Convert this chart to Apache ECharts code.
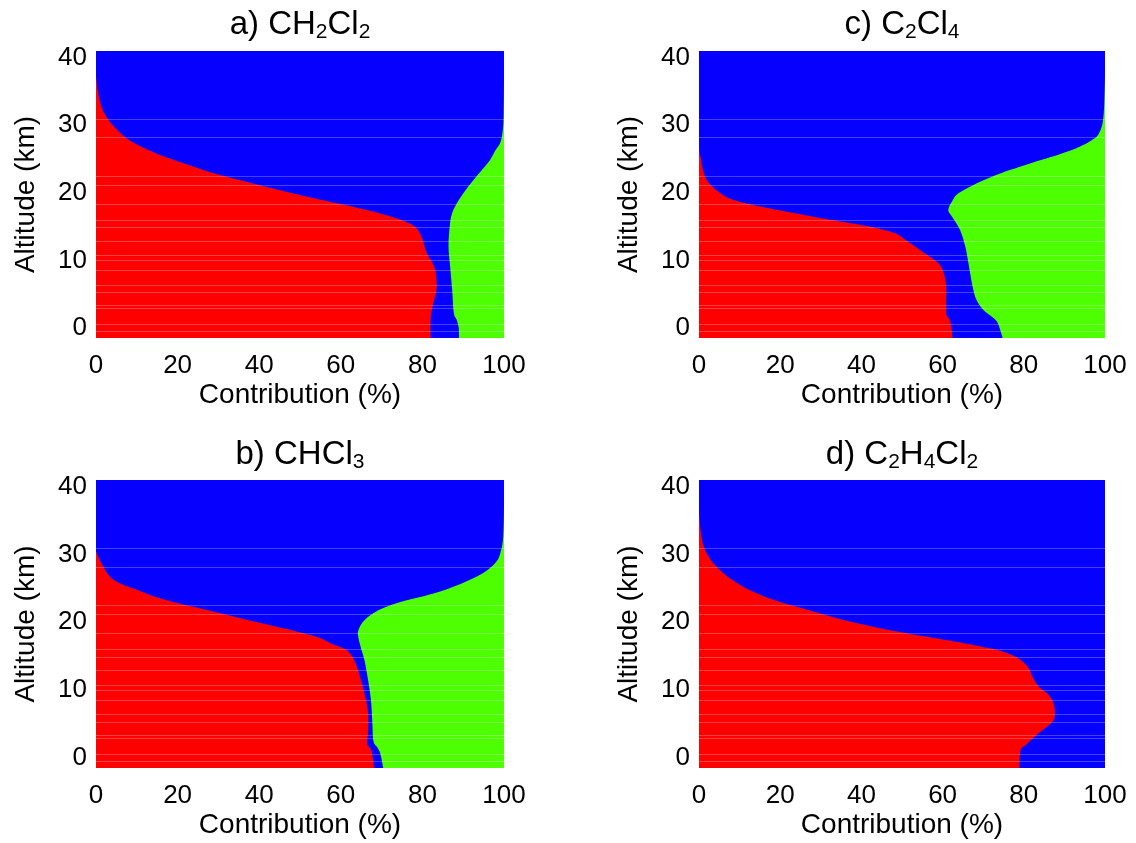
<!DOCTYPE html>
<html>
<head>
<meta charset="utf-8">
<script src="https://cdn.jsdelivr.net/npm/echarts@6/dist/echarts.min.js"></script>
<style>
html, body { margin: 0; padding: 0; background: #fff; }
#main { width: 1136px; height: 843px; }
</style>
</head>
<body>
<div id="main"></div>
<script>
// altitude (km) vs. boundary of each contribution (%)
// red = 0..red edge, blue = red edge..green edge, green = green edge..100

// a) CH2Cl2
var altRedA = [-1.5, 1.2, 3.2, 5.1, 6.6, 9.1, 11.0, 13.5, 15.0, 16.0, 17.0, 17.9, 19.4, 21.1, 22.9, 24.3, 25.8, 27.3, 28.8, 31.2, 33.7, 37.4, 41];
var redA    = [82, 82, 82.5, 83.3, 83.5, 82.9, 81.1, 79.8, 78.1, 74.6, 69.3, 63.2, 51.8, 40.4, 28.9, 21.9, 14.9, 9.6, 6.1, 2.6, 0.9, 0, 0];
var altGreenA = [-1.5, 0, 1.2, 2.2, 5.6, 9.1, 12.0, 15.0, 17.0, 19.0, 20.9, 22.9, 24.8, 26.3, 27.3, 28.8, 31.2, 37.2, 41];
var greenA    = [89, 88.9, 88.4, 87.7, 87.3, 86.8, 86.4, 86.7, 87.3, 89, 91.2, 93.9, 96.5, 97.9, 99, 99.6, 99.9, 100, 100];

// c) C2Cl4
var altRedC = [-1.5, 0.7, 1.4, 2.2, 6.1, 8.1, 9.6, 11.5, 13.0, 14.0, 15.0, 16.0, 17.0, 17.7, 18.4, 19.2, 20.2, 21.4, 22.9, 25.3, 27.8, 41];
var redC    = [62.5, 62, 61.6, 60.9, 60.9, 60.3, 58.9, 54.5, 50.9, 48.3, 42, 32.3, 23.4, 17.2, 11.8, 7.4, 4.7, 2.5, 1.2, 0.4, 0, 0];
var altGreenC = [-1.5, -0.3, 0.7, 1.4, 2.7, 4.2, 6.1, 9.1, 12.0, 14.5, 16.5, 17.5, 18.9, 19.9, 21.1, 22.4, 23.4, 24.8, 25.8, 26.8, 27.8, 28.8, 31.2, 37.2, 41];
var greenC    = [74.8, 74.2, 73.6, 72.7, 70, 68.3, 67.4, 66.5, 65.6, 64.3, 62.3, 61.4, 62.5, 63.8, 67.4, 72.3, 76.7, 83.8, 89.2, 93.6, 96.7, 98.5, 99.6, 100, 100];

// b) CHCl3
var altRedB = [-1.5, 1.1, 2.0, 4.0, 6.5, 8.5, 10.4, 12.4, 14.4, 15.9, 16.8, 17.8, 18.8, 19.8, 20.8, 21.8, 22.8, 23.7, 24.7, 25.7, 26.7, 28.2, 30.2, 31.6, 41];
var redB    = [68.2, 67.5, 66.5, 66.7, 66.7, 66.2, 65.4, 64.5, 63.3, 61.4, 57.9, 54.4, 48.2, 41.2, 34.2, 27.2, 20.2, 14.9, 10.5, 6.1, 3.5, 1.8, 0.2, 0, 0];
var altGreenB = [-1.5, 0.6, 1.6, 2.5, 5.5, 8.5, 11.4, 14.4, 16.3, 17.8, 18.8, 20.3, 21.8, 23.0, 24.2, 25.7, 27.2, 28.7, 30.2, 32.6, 37, 41];
var greenB    = [70.4, 69.7, 68.9, 68, 67.7, 67.4, 66.7, 65.8, 64.9, 64.3, 64.3, 65.8, 69.3, 74.6, 82.5, 89.5, 94.7, 97.8, 99.1, 99.8, 100, 100];

// d) C2H4Cl2 (no green part)
var altRedD = [-1.5, 1.1, 2.0, 3.5, 5.0, 6.0, 7.9, 9.4, 10.4, 11.9, 13.4, 14.9, 15.9, 16.3, 17.3, 18.8, 20.3, 21.8, 23.2, 24.7, 26.2, 27.7, 29.2, 31.1, 33.6, 36.6, 41];
var redD    = [78.9, 79.2, 80.7, 83.4, 86.5, 87.6, 87.4, 86, 83.8, 82.2, 81, 78, 73.6, 70.5, 61.6, 47.4, 35.8, 26.9, 18.9, 12.7, 8.3, 5.2, 2.9, 1.2, 0.4, 0, 0];
var altGreenD = [-1.5, 41];
var greenD    = [100, 100];

// model levels showing as faint lines
var levels = [31.0, 28.2, 22.5, 21.2, 18.4, 16.0, 14.9, 12.9, 10.8, 10.0, 8.6, 6.4, 5.3, 3.4, 2.9, 0.6, -0.4];

var yTicks = [0, 10, 20, 30, 40];
var titles = ['a) CH{s|2}Cl{s|2}', 'c) C{s|2}Cl{s|4}', 'b) CHCl{s|3}', 'd) C{s|2}H{s|4}Cl{s|2}'];

var panels = [
    {alt: altRedA, red: redA, altG: altGreenA, green: greenA},
    {alt: altRedC, red: redC, altG: altGreenC, green: greenC},
    {alt: altRedB, red: redB, altG: altGreenB, green: greenB},
    {alt: altRedD, red: redD, altG: altGreenD, green: greenD}
];

var FONT = '"Liberation Sans", Arial, Helvetica, sans-serif';
var Y_MIN = -1.5, Y_MAX = 41;
var chart = echarts.init(document.getElementById('main'));

var grids = [
    {left: 96, top: 51, width: 408, height: 287},
    {left: 699, top: 51, width: 406, height: 287},
    {left: 96, top: 480, width: 408, height: 288},
    {left: 699, top: 480, width: 406, height: 288}
];

var xAxes = [], yAxes = [], series = [], graphics = [];

function pt(p) { return p[0].toFixed(2) + ',' + p[1].toFixed(2); }

// smooth curve (catmull-rom) through the edge points, in pixels
function spline(px) {
    var s = '';
    for (var i = 0; i < px.length - 1; i++) {
        var p0 = px[Math.max(i - 1, 0)], p1 = px[i], p2 = px[i + 1], p3 = px[Math.min(i + 2, px.length - 1)];
        var c1 = [p1[0] + (p2[0] - p0[0]) / 6, p1[1] + (p2[1] - p0[1]) / 6];
        var c2 = [p2[0] - (p3[0] - p1[0]) / 6, p2[1] - (p3[1] - p1[1]) / 6];
        s += ' C' + pt(c1) + ' ' + pt(c2) + ' ' + pt(p2);
    }
    return s;
}

// kind: 'blue' whole area, 'red' left of edge, 'green' right of edge
function areaSeries(i, xs, alts, kind, color) {
    return {
        type: 'custom',
        xAxisIndex: i,
        yAxisIndex: i,
        silent: true,
        clip: true,
        data: [[0, 0]],
        renderItem: function (params, api) {
            var d;
            if (kind === 'blue') {
                d = 'M' + pt(api.coord([0, Y_MIN])) + ' L' + pt(api.coord([100, Y_MIN])) +
                    ' L' + pt(api.coord([100, Y_MAX])) + ' L' + pt(api.coord([0, Y_MAX])) + ' Z';
            } else {
                var px = xs.map(function (v, k) { return api.coord([v, alts[k]]); });
                if (kind === 'red') {
                    d = 'M' + pt(api.coord([0, alts[0]])) + ' L' + pt(px[0]) + spline(px) + ' Z';
                } else {
                    d = 'M' + pt(px[0]) + spline(px) + ' L' + pt(api.coord([100, alts[alts.length - 1]])) +
                        ' L' + pt(api.coord([100, alts[0]])) + ' Z';
                }
            }
            return {type: 'path', shape: {pathData: d}, style: {fill: color}};
        }
    };
}

panels.forEach(function (p, i) {
    xAxes.push({
        gridIndex: i,
        type: 'value',
        min: 0, max: 100, interval: 20,
        axisLine: {show: false},
        axisTick: {show: true, inside: true, length: 4, lineStyle: {color: 'rgba(255,255,255,0.35)'}},
        splitLine: {show: false},
        axisLabel: {fontSize: 26, fontFamily: FONT, color: '#000', margin: 15},
        name: 'Contribution (%)',
        nameLocation: 'middle',
        nameGap: 43,
        nameTextStyle: {fontSize: 28, fontFamily: FONT, color: '#000'}
    });
    yAxes.push({
        gridIndex: i,
        type: 'value',
        min: Y_MIN, max: Y_MAX,
        axisLine: {show: false},
        axisTick: {show: false},
        splitLine: {show: false},
        axisLabel: {customValues: yTicks, fontSize: 26, fontFamily: FONT, color: '#000', margin: 9},
        name: 'Altitude (km)',
        nameLocation: 'middle',
        nameGap: 56,
        nameTextStyle: {fontSize: 28, fontFamily: FONT, color: '#000'}
    });

    series.push(areaSeries(i, null, null, 'blue', '#0500ff'));
    series.push(areaSeries(i, p.red, p.alt, 'red', '#ff0000'));
    series.push(areaSeries(i, p.green, p.altG, 'green', '#4dff00'));

    series.push({
        type: 'custom',
        xAxisIndex: i,
        yAxisIndex: i,
        silent: true,
        data: levels.map(function (l) { return [0, l]; }),
        renderItem: function (params, api) {
            var a = api.coord([0, api.value(1)]);
            var b = api.coord([100, api.value(1)]);
            var y = Math.round(a[1]) + 0.5;
            return {
                type: 'line',
                shape: {x1: a[0], y1: y, x2: b[0], y2: y},
                style: {stroke: 'rgba(255,255,255,0.25)', lineWidth: 1}
            };
        }
    });

    var g = grids[i];
    graphics.push({
        type: 'text',
        x: g.left + g.width / 2,
        y: i < 2 ? 7 : 437,
        style: {
            text: titles[i],
            fontSize: 33,
            fontFamily: FONT,
            fill: '#000',
            align: 'center',
            verticalAlign: 'top',
            lineHeight: 36,
            rich: {
                s: {fontSize: 21, fontFamily: FONT, fill: '#000', verticalAlign: 'bottom', lineHeight: 22}
            }
        }
    });
});

chart.setOption({
    animation: false,
    backgroundColor: '#fff',
    grid: grids,
    xAxis: xAxes,
    yAxis: yAxes,
    series: series,
    graphic: graphics
});
</script>
</body>
</html>
